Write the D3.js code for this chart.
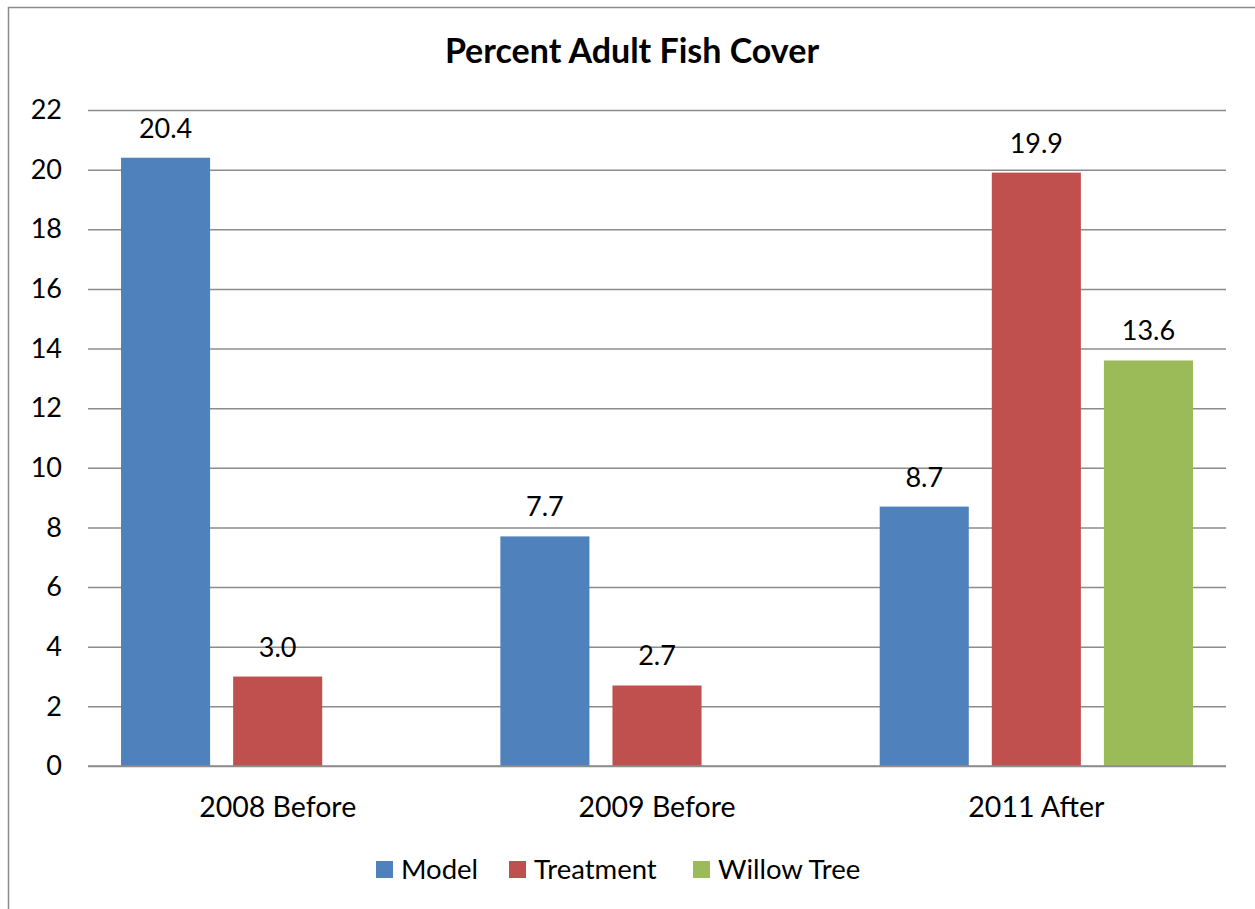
<!DOCTYPE html>
<html><head><meta charset="utf-8">
<script src="https://cdn.jsdelivr.net/npm/d3@7"></script>
<style>body{margin:0;background:#fff;} svg{display:block;}</style>
</head><body>
<svg id="c" width="1255" height="909"></svg>
<script>
const categories = ["2008 Before", "2009 Before", "2011 After"];
const seriesNames = ["Model", "Treatment", "Willow Tree"];
const model = [20.4, 7.7, 8.7];
const treatment = [3.0, 2.7, 19.9];
const willow = [null, null, 13.6];
const yTicks = [0, 2, 4, 6, 8, 10, 12, 14, 16, 18, 20, 22];
const colors = ["#4F81BD", "#C0504D", "#9BBB59"];
const title = "Percent Adult Fish Cover";

const seriesValues = [model, treatment, willow];
const FONT = "Lato, 'Open Sans', sans-serif";
const svg = d3.select("#c");

// outer border (chart frame, cropped at right/bottom)
svg.append("path").attr("d", "M8.5,909 L8.5,7.5 L1255,7.5")
  .attr("fill", "none").attr("stroke", "#8c8c8c").attr("stroke-width", 1.5);

const L = 88, R = 1226, T = 110, B = 766;
const x0 = d3.scaleBand().domain(categories).range([L, R]).paddingInner(0).paddingOuter(0);
const x1 = d3.scaleBand().domain(seriesNames).range([0, x0.bandwidth()]).paddingInner(23/112).paddingOuter(33/112);
const y = d3.scaleLinear().domain([0, 22]).range([B, T]);

svg.append("text").attr("x", 632).attr("y", 63).attr("text-anchor", "middle")
  .attr("font-family", FONT).attr("font-weight", "bold").attr("font-size", 34).attr("fill", "#000").text(title);

// gridlines
const yAxis = d3.axisLeft(y).tickValues(yTicks).tickSize(-(R - L)).tickPadding(26).tickFormat(d3.format("d"));
const gy = svg.append("g").attr("transform", `translate(${L},0)`).call(yAxis);
gy.select(".domain").remove();
gy.selectAll(".tick line").attr("stroke", "#8c8c8c").attr("stroke-width", 1.5);
gy.selectAll(".tick text").attr("font-family", FONT).attr("font-size", 27).attr("fill", "#000");

// bars
categories.forEach((cat, ci) => {
  seriesNames.forEach((s, si) => {
    const v = seriesValues[si][ci];
    if (v == null) return;
    const bx = x0(cat) + x1(s);
    svg.append("rect").attr("x", bx).attr("y", y(v)).attr("width", x1.bandwidth())
      .attr("height", y(0) - y(v)).attr("fill", colors[si]);
    svg.append("text").attr("x", bx + x1.bandwidth() / 2).attr("y", y(v) - 20)
      .attr("text-anchor", "middle").attr("font-family", FONT).attr("font-size", 27)
      .attr("fill", "#000").text(d3.format(".1f")(v));
  });
});

// zero line redraw on top
svg.append("line").attr("x1", L).attr("x2", R).attr("y1", y(0)).attr("y2", y(0))
  .attr("stroke", "#8c8c8c").attr("stroke-width", 1.5);

// category axis labels
const xAxis = d3.axisBottom(x0).tickSize(0).tickPadding(31);
const gx = svg.append("g").attr("transform", `translate(0,${B})`).call(xAxis);
gx.select(".domain").remove();
gx.selectAll(".tick text").attr("font-family", FONT).attr("font-size", 28.5).attr("fill", "#000");

// legend
const legendX = [376, 509, 693];
seriesNames.forEach((s, i) => {
  const g = svg.append("g").attr("transform", `translate(${legendX[i]},861)`);
  g.append("rect").attr("width", 17).attr("height", 17).attr("fill", colors[i]);
  g.append("text").attr("x", 25).attr("y", 18).attr("font-family", FONT).attr("font-size", 27.5)
    .attr("fill", "#000").text(s);
});
</script>
</body></html>
